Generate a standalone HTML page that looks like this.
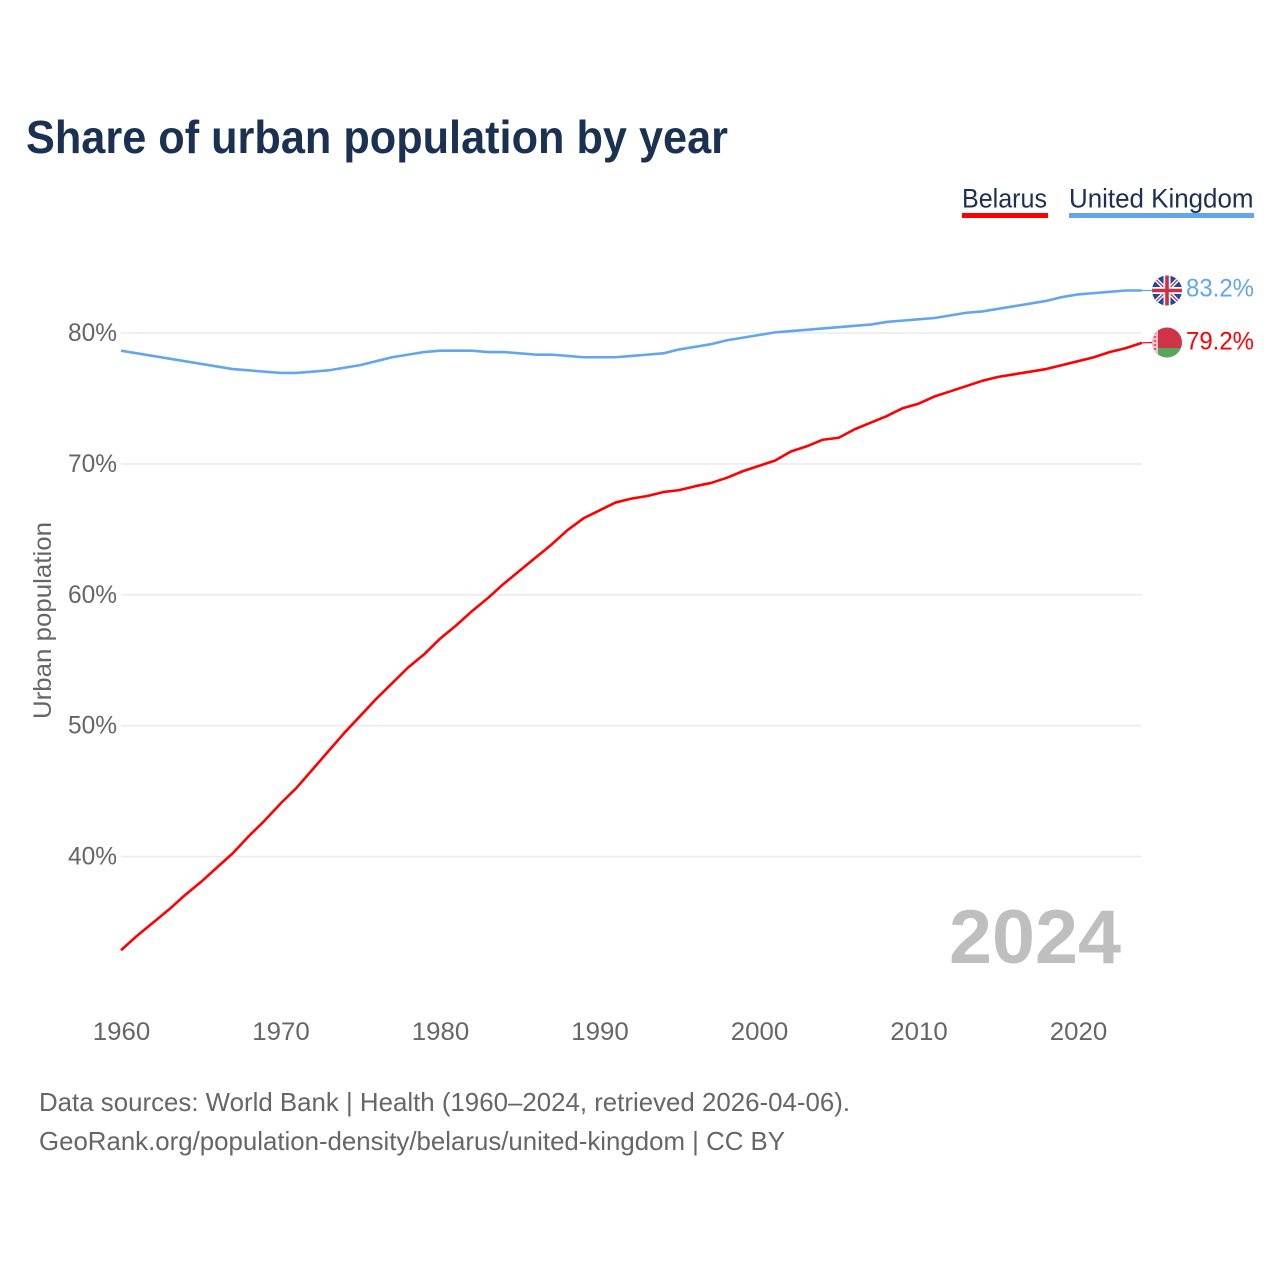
<!DOCTYPE html>
<html lang="en">
<head>
<meta charset="utf-8">
<title>Share of urban population by year</title>
<style>
html,body{margin:0;padding:0;background:#fff;width:1280px;height:1280px;overflow:hidden}
svg{display:block;font-family:"Liberation Sans",sans-serif}
</style>
</head>
<body>
<svg id="chart" width="1280" height="1280" viewBox="0 0 1280 1280" xmlns="http://www.w3.org/2000/svg">
  <defs>
    <clipPath id="uk-clip"><circle cx="1167" cy="290.5" r="15"/></clipPath>
    <clipPath id="by-clip"><circle cx="1167" cy="342.5" r="15"/></clipPath>
  </defs>
  <rect width="1280" height="1280" fill="#fff"/>
  <text x="26" y="153" font-size="46" font-weight="700" fill="#1a3152" textLength="702" lengthAdjust="spacingAndGlyphs">Share of urban population by year</text>

  <g>
    <g>
      <text x="962" y="207.5" font-size="27" fill="#1a3152" textLength="85" lengthAdjust="spacingAndGlyphs">Belarus</text>
      <rect x="962" y="213" width="86" height="5" fill="#ff0000"/>
    </g>
    <g>
      <text x="1069" y="207.5" font-size="27" fill="#1a3152" textLength="184.5" lengthAdjust="spacingAndGlyphs">United Kingdom</text>
      <rect x="1069" y="213" width="185" height="5" fill="#63a6eb"/>
    </g>
  </g>

  <g id="grid"></g>
  <g id="y-axis"></g>
  <g id="x-axis"></g>
  <text transform="translate(51,719) rotate(-90)" font-size="25" fill="#666" textLength="197" lengthAdjust="spacingAndGlyphs">Urban population</text>
  <text x="1121" y="963" text-anchor="end" font-size="76" font-weight="700" fill="#bfbfbf" textLength="172" lengthAdjust="spacingAndGlyphs">2024</text>
  <g id="series" transform="translate(0,0.7)"></g>

  <g clip-path="url(#uk-clip)">
    <rect x="1152" y="275" width="30" height="31" fill="#1c4a9c"/>
    <path d="M1152 275.5L1182 305.5M1182 275.5L1152 305.5" stroke="#fff" stroke-width="4"/>
    <path d="M1152 275.5L1182 305.5M1182 275.5L1152 305.5" stroke="#cf2e45" stroke-width="1.3"/>
    <path d="M1167 275V306M1152 290.5H1182" stroke="#fff" stroke-width="7"/>
    <path d="M1167 275V306M1152 290.5H1182" stroke="#cf2e45" stroke-width="3.6"/>
  </g>
  <g clip-path="url(#by-clip)">
    <rect x="1152" y="327" width="30" height="21" fill="#cf3348"/>
    <rect x="1152" y="348" width="30" height="10" fill="#58a65c"/>
    <rect x="1152" y="327" width="6" height="31" fill="#f3c6cb"/>
    <path d="M1155 328V357" stroke="#d9606f" stroke-width="2.4" stroke-dasharray="2 2"/>
  </g>

  <text x="1186" y="296.5" font-size="25" fill="#63a6eb" textLength="68" lengthAdjust="spacingAndGlyphs">83.2%</text>
  <text x="1186" y="349.5" font-size="25" fill="#ff0000" textLength="68" lengthAdjust="spacingAndGlyphs">79.2%</text>

  <text x="39" y="1111" font-size="26" fill="#666" textLength="811" lengthAdjust="spacingAndGlyphs">Data sources: World Bank | Health (1960–2024, retrieved 2026-04-06).</text>
  <text x="39" y="1150" font-size="26" fill="#666" textLength="746" lengthAdjust="spacingAndGlyphs">GeoRank.org/population-density/belarus/united-kingdom | CC BY</text>
</svg>
<script>
const startYear = 1960;
const belarusValues = [
  32.9,34.0,35.0,36.0,37.1,38.1,39.2,40.3,41.6,42.8,
  44.1,45.3,46.7,48.1,49.5,50.8,52.1,53.3,54.5,55.5,
  56.7,57.7,58.8,59.8,60.9,61.9,62.9,63.9,65.0,65.9,
  66.5,67.1,67.4,67.6,67.9,68.05,68.35,68.6,69.0,69.5,
  69.9,70.3,71.0,71.4,71.9,72.05,72.7,73.2,73.7,74.3,
  74.65,75.2,75.6,76.0,76.4,76.7,76.9,77.1,77.3,77.6,
  77.9,78.2,78.6,78.9,79.3
];
const ukValues = [
  78.7,78.5,78.3,78.1,77.9,77.7,77.5,77.3,77.2,77.1,
  77.0,77.0,77.1,77.2,77.4,77.6,77.9,78.2,78.4,78.6,
  78.7,78.7,78.7,78.6,78.6,78.5,78.4,78.4,78.3,78.2,
  78.2,78.2,78.3,78.4,78.5,78.8,79.0,79.2,79.5,79.7,
  79.9,80.1,80.2,80.3,80.4,80.5,80.6,80.7,80.9,81.0,
  81.1,81.2,81.4,81.6,81.7,81.9,82.1,82.3,82.5,82.8,
  83.0,83.1,83.2,83.3,83.3
];
const yTicks = [40,50,60,70,80];
const xTicks = [1960,1970,1980,1990,2000,2010,2020];

const NS = 'http://www.w3.org/2000/svg';
function xScale(year){ return 121 + (year - 1960) * 15.95; }
function yScale(v){ return 333 + (80 - v) * 13.09; }

const gridGroup = document.getElementById('grid');
const yAxisGroup = document.getElementById('y-axis');
const xAxisGroup = document.getElementById('x-axis');
const seriesGroup = document.getElementById('series');

yTicks.forEach(function(t){
  const line = document.createElementNS(NS,'line');
  
  
  line.setAttribute('x1', xScale(1960));
  line.setAttribute('x2', xScale(2024));
  line.setAttribute('y1', yScale(t));
  line.setAttribute('y2', yScale(t));
  line.setAttribute('stroke', '#ececec');
  line.setAttribute('stroke-width', '1.6');
  gridGroup.appendChild(line);

  const label = document.createElementNS(NS,'text');
  
  
  label.setAttribute('x', 117);
  label.setAttribute('y', yScale(t) + 8);
  label.setAttribute('text-anchor', 'end');
  label.setAttribute('font-size', '25');
  label.setAttribute('fill', '#666');
  label.setAttribute('textLength', '49');
  label.setAttribute('lengthAdjust', 'spacingAndGlyphs');
  label.textContent = t + '%';
  yAxisGroup.appendChild(label);
});

xTicks.forEach(function(t){
  const label = document.createElementNS(NS,'text');
  
  
  label.setAttribute('x', xScale(t) + 0.5);
  label.setAttribute('y', 1040);
  label.setAttribute('text-anchor', 'middle');
  label.setAttribute('font-size', '25');
  label.setAttribute('fill', '#666');
  label.setAttribute('textLength', '57.5');
  label.setAttribute('lengthAdjust', 'spacingAndGlyphs');
  label.textContent = String(t);
  xAxisGroup.appendChild(label);
});

function linePath(values){
  return values.map(function(v,i){
    return (i ? 'L' : 'M') + xScale(startYear + i).toFixed(2) + ' ' + yScale(v).toFixed(2);
  }).join('');
}

const ukLine = document.createElementNS(NS,'path');


ukLine.setAttribute('d', linePath(ukValues));
ukLine.setAttribute('fill', 'none');
ukLine.setAttribute('stroke', '#63a6eb');
ukLine.setAttribute('stroke-width', '2.6');
ukLine.setAttribute('stroke-linejoin', 'round');
seriesGroup.appendChild(ukLine);

const byLine = document.createElementNS(NS,'path');


byLine.setAttribute('d', linePath(belarusValues));
byLine.setAttribute('fill', 'none');
byLine.setAttribute('stroke', '#ff0000');
byLine.setAttribute('stroke-width', '2.6');
byLine.setAttribute('stroke-linejoin', 'round');
seriesGroup.appendChild(byLine);

const ukLeader = document.createElementNS(NS,'line');


ukLeader.setAttribute('x1', xScale(2024));
ukLeader.setAttribute('x2', 1153);
ukLeader.setAttribute('y1', yScale(ukValues[ukValues.length - 1]));
ukLeader.setAttribute('y2', 289.8);
ukLeader.setAttribute('stroke', '#63a6eb');
ukLeader.setAttribute('stroke-width', '1.2');
seriesGroup.appendChild(ukLeader);

const byLeader = document.createElementNS(NS,'line');


byLeader.setAttribute('x1', xScale(2024));
byLeader.setAttribute('x2', 1153);
byLeader.setAttribute('y1', yScale(belarusValues[belarusValues.length - 1]));
byLeader.setAttribute('y2', 341.8);
byLeader.setAttribute('stroke', '#ff0000');
byLeader.setAttribute('stroke-width', '1.2');
seriesGroup.appendChild(byLeader);
</script>
</body>
</html>
